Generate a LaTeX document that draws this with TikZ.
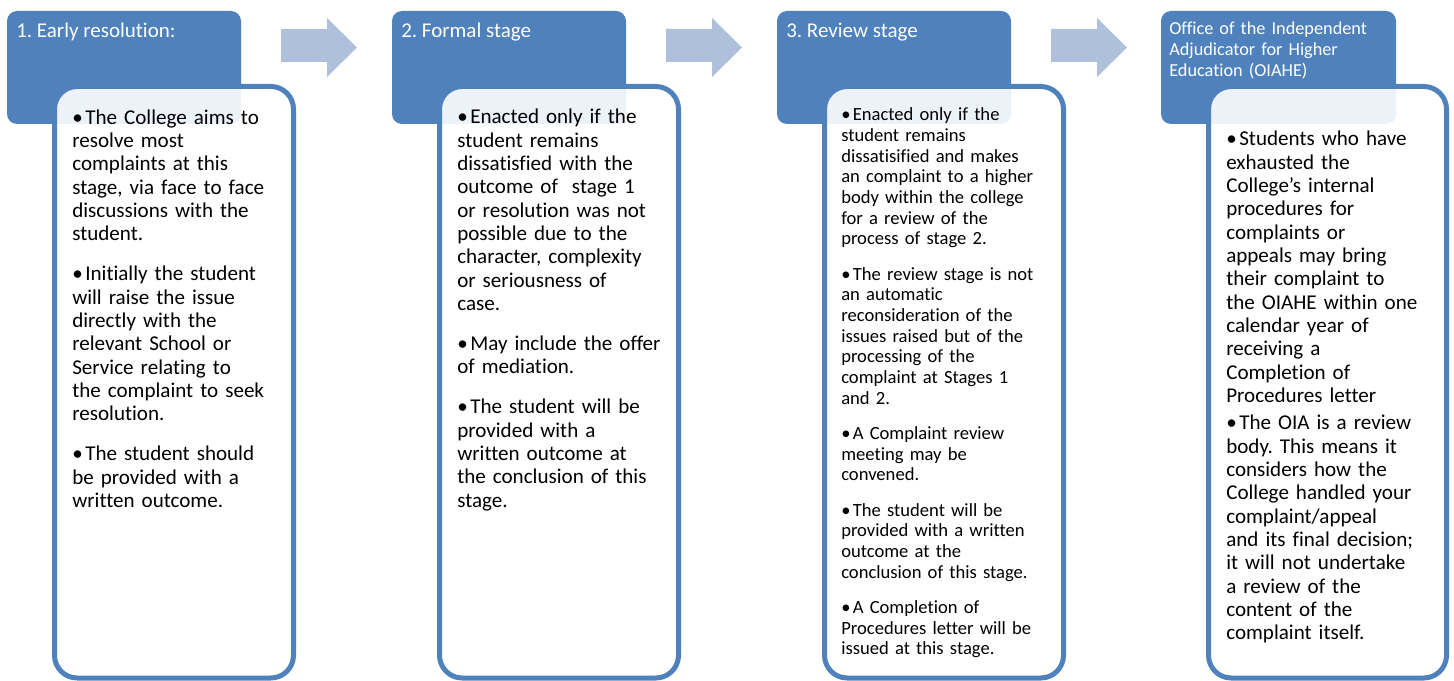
\documentclass[tikz,border=0pt]{standalone}
\usepackage{fontspec}
\setmainfont{Carlito}[Ligatures={NoCommon,NoContextual}]
\usepackage{tikz}

\definecolor{hdrblue}{RGB}{79,129,189}
\definecolor{arrowblue}{RGB}{175,192,221}

\frenchspacing
% one bullet paragraph, lines broken by hand
\newcommand{\bitem}[1]{\hangindent=0.62em\hangafter=1\noindent
  \hbox to 0.62em{\textbullet\hfil}#1\par}

\begin{document}
\begin{tikzpicture}[x=0.75pt,y=-0.75pt,
    hdrbox/.style={fill=hdrblue,rounded corners=7.5pt},
    bodybox/.style={draw=hdrblue,line width=3.75pt,fill=white,
      fill opacity=0.9,rounded corners=17pt},
    stagearrow/.style={fill=arrowblue},
    hdrtext/.style={anchor=base west,inner sep=0pt,text=white,
      font=\fontsize{15.75}{17}\selectfont},
    bodytext/.style={anchor=base west,inner sep=0pt,text width=162pt,
      align=left,font=\fontsize{15.8}{17.5}\selectfont}]
  \useasboundingbox (0,0) rectangle (1454,681);
  %\draw[very thin,lightgray] (0,0) grid[step=50] (1454,681);

  % headers
  \fill[hdrbox] (7,11) rectangle (241,124);
  \fill[hdrbox] (392,11) rectangle (626,124);
  \fill[hdrbox] (777,11) rectangle (1011,124);
  \fill[hdrbox] (1161,11) rectangle (1396,124);

  % arrows between the stages
  \fill[stagearrow] (281,29) -- (327,29) -- (327,18) -- (357,47.5)
    -- (327,77) -- (327,62) -- (281,62) -- cycle;
  \fill[stagearrow] (666,29) -- (712,29) -- (712,18) -- (742,47.5)
    -- (712,77) -- (712,62) -- (666,62) -- cycle;
  \fill[stagearrow] (1051,29) -- (1097,29) -- (1097,18) -- (1127,47.5)
    -- (1097,77) -- (1097,62) -- (1051,62) -- cycle;

  % bodies
  \filldraw[bodybox] (54.5,86.5) rectangle (293.5,678);
  \filldraw[bodybox] (439.5,86.5) rectangle (678.5,678);
  \filldraw[bodybox] (824.5,86.5) rectangle (1063.5,678);
  \filldraw[bodybox] (1208.5,86.5) rectangle (1446.5,678);

  % titles
  \node[hdrtext] (title1) at (16,38) {1. Early resolution:};
  \node[hdrtext] (title2) at (401,38) {2. Formal stage};
  \node[hdrtext] (title3) at (786,38) {3. Review stage};
  \node[hdrtext,text width=170pt,align=left,
    font=\fontsize{13.7}{15.75}\selectfont]
    (title4) at (1169,34.3) {Office of the Independent\\
    Adjudicator for Higher\\Education (OIAHE)};

  % lists
  \node[bodytext] (list1) at (72,124.3) {%
    \bitem{The College aims to\\resolve most\\complaints at this\\
      stage, via face to face\\discussions with the\\student.}
    \vspace{12.5pt}
    \bitem{Initially the student\\will raise the issue\\directly with the\\
      relevant School or\\Service relating to\\the complaint to seek\\
      resolution.}
    \vspace{12.5pt}
    \bitem{The student should\\be provided with a\\written outcome.}};
  \node[bodytext] (list2) at (457,124) {%
    \bitem{Enacted only if the\\student remains\\dissatisfied with the\\
      outcome of~ stage 1\\or resolution was not\\possible due to the\\
      character, complexity\\or seriousness of\\case.}
    \vspace{12.5pt}
    \bitem{May include the offer\\of mediation.}
    \vspace{12.5pt}
    \bitem{The student will be\\provided with a\\written outcome at\\
      the conclusion of this\\stage.}};
  \node[bodytext,font=\fontsize{13.95}{15.5}\selectfont]
    (list3) at (841,120.7) {%
    \bitem{Enacted only if the\\student remains\\dissatisified and makes\\
      an complaint to a higher\\body within the college\\
      for a review of the\\process of stage 2.}
    \vspace{11pt}
    \bitem{The review stage is not\\an automatic\\reconsideration of the\\
      issues raised but of the\\processing of the\\complaint at Stages 1\\
      and 2.}
    \vspace{11pt}
    \bitem{A Complaint review\\meeting may be\\convened.}
    \vspace{11pt}
    \bitem{The student will be\\provided with a written\\outcome at the\\
      conclusion of this stage.}
    \vspace{11pt}
    \bitem{A Completion of\\Procedures letter will be\\issued at this stage.}};
  \node[bodytext] (list4) at (1226,145.7) {%
    \bitem{Students who have\\exhausted the\\College’s internal\\
      procedures for\\complaints or\\appeals may bring\\their complaint to\\
      the OIAHE within one\\calendar year of\\receiving a\\
      Completion of\\Procedures letter}
    \vspace{3pt}
    \bitem{The OIA is a review\\body. This means it\\considers how the\\
      College handled your\\complaint/appeal\\and its final decision;\\
      it will not undertake\\a review of the\\content of the\\
      complaint itself.}};
\end{tikzpicture}
\end{document}
